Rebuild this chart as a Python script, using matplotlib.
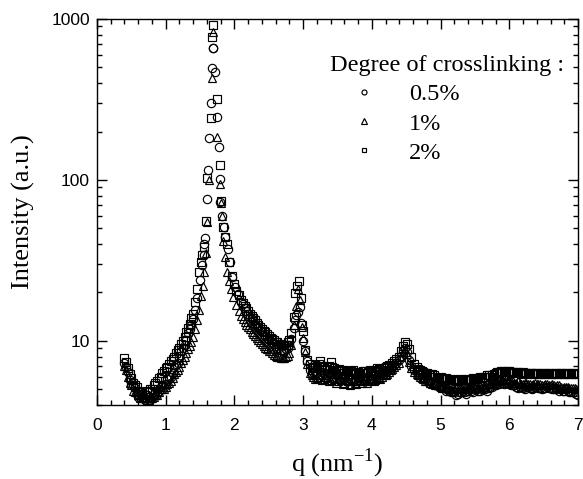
import matplotlib
matplotlib.use('Agg')
import matplotlib.pyplot as plt
import matplotlib.ticker as mticker
import numpy as np

plt.rcParams['font.family'] = 'Liberation Sans'
plt.rcParams['mathtext.fontset'] = 'custom'
plt.rcParams['mathtext.rm'] = 'Liberation Serif'

# ---------------- data ----------------
series_labels = ['0.5%', '1%', '2%']

# shared q grids (smooth regions)
q_low = [0.400, 0.425, 0.450, 0.475, 0.500, 0.525, 0.550, 0.575, 0.600,
         0.625, 0.650, 0.675, 0.700, 0.725, 0.750, 0.775, 0.800, 0.825,
         0.850, 0.875, 0.900, 0.925, 0.950, 0.975, 1.000, 1.025, 1.050,
         1.075, 1.100, 1.125, 1.150, 1.175, 1.200, 1.225, 1.250, 1.275,
         1.300, 1.325, 1.350, 1.375, 1.400]
q_dec = [2.100, 2.125, 2.150, 2.175, 2.200, 2.225, 2.250, 2.275, 2.300,
         2.325, 2.350, 2.375, 2.400, 2.425, 2.450, 2.475, 2.500, 2.525,
         2.550, 2.575, 2.600, 2.625, 2.650, 2.675, 2.700, 2.725, 2.750,
         2.775, 2.800]
q_mid = [3.100, 3.125, 3.150, 3.175, 3.200, 3.225, 3.250, 3.275, 3.300,
         3.325, 3.350, 3.375, 3.400, 3.425, 3.450, 3.475, 3.500, 3.525,
         3.550, 3.575, 3.600, 3.625, 3.650, 3.675, 3.700, 3.725, 3.750,
         3.775, 3.800, 3.825, 3.850, 3.875, 3.900, 3.925, 3.950, 3.975,
         4.000, 4.025, 4.050, 4.075, 4.100, 4.125, 4.150, 4.175, 4.200,
         4.225, 4.250, 4.275, 4.300, 4.325, 4.350]
q_tail = [4.650, 4.675, 4.700, 4.725, 4.750, 4.775, 4.800, 4.825, 4.850,
          4.875, 4.900, 4.925, 4.950, 4.975, 5.000, 5.025, 5.050, 5.075,
          5.100, 5.125, 5.150, 5.175, 5.200, 5.225, 5.250, 5.275, 5.300,
          5.325, 5.350, 5.375, 5.400, 5.425, 5.450, 5.475, 5.500, 5.525,
          5.550, 5.575, 5.600, 5.625, 5.650, 5.675, 5.700, 5.725, 5.750,
          5.775, 5.800, 5.825, 5.850, 5.875, 5.900, 5.925, 5.950, 5.975,
          6.000, 6.025, 6.050, 6.075, 6.100, 6.125, 6.150, 6.175, 6.200,
          6.225, 6.250, 6.275, 6.300, 6.325, 6.350, 6.375, 6.400, 6.425,
          6.450, 6.475, 6.500, 6.525, 6.550, 6.575, 6.600, 6.625, 6.650,
          6.675, 6.700, 6.725, 6.750, 6.775, 6.800, 6.825, 6.850, 6.875,
          6.900, 6.925, 6.950, 6.975, 7.000]

# 0.5 % crosslinking (circles)
low_05 = [7.3, 6.9, 6.4, 5.7, 5.3, 5.3, 5.1, 4.7, 4.5, 4.7, 4.6, 4.4, 4.3,
          4.6, 4.5, 4.3, 4.4, 4.7, 4.8, 4.7, 4.9, 5.2, 5.3, 5.2, 5.4, 5.8,
          6.0, 6.0, 6.3, 6.9, 7.2, 7.3, 7.8, 8.6, 9.0, 9.4, 10.1, 11.2,
          11.9, 12.5, 13.6]
dec_05 = [17.5, 16.9, 16.0, 15.3, 14.8, 14.1, 13.7, 13.3, 12.8, 12.3, 12.0,
          11.7, 11.3, 10.9, 10.7, 10.5, 10.2, 9.9, 9.7, 9.6, 9.3, 9.1, 9.0,
          8.8, 8.8, 8.7, 8.9, 9.1, 9.4]
mid_05 = [6.6, 6.2, 6.4, 6.5, 6.3, 6.0, 6.2, 6.4, 6.3, 6.1, 6.1, 6.3, 6.2,
          5.9, 6.0, 6.2, 6.1, 5.8, 5.9, 6.0, 5.8, 5.6, 5.9, 5.8, 5.7, 5.9,
          5.8, 5.6, 5.7, 5.9, 5.9, 5.7, 5.8, 6.0, 6.0, 5.8, 5.9, 6.1, 6.1,
          6.0, 6.2, 6.3, 6.1, 6.2, 6.4, 6.5, 6.6, 6.7, 6.9, 7.1, 7.3]
tail_05 = [6.4, 6.2, 6.1, 6.0, 5.9, 5.8, 5.7, 5.5, 5.6, 5.5,
           5.4, 5.3, 5.4, 5.2, 5.2, 5.2, 5.1, 4.9, 5.0, 4.9,
           4.8, 4.9, 4.8, 4.6, 4.7, 4.8, 4.8, 4.9, 4.8, 4.7,
           4.9, 5.0, 4.9, 4.8, 5.0, 5.0, 4.9, 4.9, 5.0, 5.1,
           5.0, 4.9, 5.1, 5.2, 5.2, 5.3, 5.3, 5.4, 5.4, 5.6,
           5.5, 5.4, 5.5, 5.5, 5.4, 5.3, 5.3, 5.3, 5.2, 5.1,
           5.2, 5.2, 5.1, 5.0, 5.2, 5.2, 5.1, 5.0, 5.1, 5.2,
           5.2, 5.1, 5.1, 5.0, 5.1, 5.1, 5.2, 5.1, 5.1, 5.0,
           5.0, 5.1, 5.0, 4.9, 5.0, 4.9, 4.9, 5.0, 4.9, 4.8,
           4.8, 4.8, 4.8, 4.7, 4.6]
q_pk_05 = [1.43, 1.46, 1.50, 1.53, 1.55, 1.56, 1.575, 1.605, 1.615, 1.625,
           1.655, 1.675, 1.69, 1.695, 1.715, 1.75, 1.776, 1.79, 1.795, 1.82,
           1.845, 1.87, 1.90, 1.93, 1.97, 2.01, 2.05,
           2.83, 2.86, 2.88, 2.90, 2.93, 2.955, 2.975, 3.00, 3.03, 3.055,
           4.39, 4.42, 4.45, 4.48, 4.51, 4.54, 4.57, 4.61]
I_pk_05 = [15.5, 18.5, 24, 29.5, 34.4, 40, 43.6, 76, 115, 181,
           300, 494, 664, 660, 470, 245, 161, 102, 73, 60,
           51, 44, 37, 31, 25, 21.5, 19.5,
           10.3, 12.0, 13.4, 14.5, 15.2, 16.3, 13.0, 10.0, 8.6, 7.5,
           7.6, 8.1, 8.7, 9.0, 8.5, 7.6, 7.0, 6.6]

# 1 % crosslinking (triangles)
low_1 = [7.0, 6.6, 6.0, 5.5, 5.3, 4.9, 4.8, 4.8, 4.6, 4.4, 4.4, 4.5, 4.4,
         4.3, 4.3, 4.4, 4.4, 4.5, 4.6, 4.6, 4.8, 5.0, 5.0, 5.0, 5.2, 5.4,
         5.5, 5.6, 5.9, 6.2, 6.4, 6.6, 6.9, 7.3, 7.6, 7.9, 8.4, 8.9, 9.3,
         9.8, 10.6]
dec_1 = [14.2, 13.7, 13.1, 12.6, 12.2, 11.8, 11.4, 11.0, 10.7, 10.4, 10.1,
         9.8, 9.6, 9.3, 9.1, 8.9, 8.7, 8.6, 8.4, 8.2, 8.1, 8.0, 7.9, 7.8,
         7.8, 7.8, 7.9, 8.1, 8.4]
mid_1 = [6.3, 6.1, 6.0, 5.8, 5.9, 6.1, 6.0, 5.7, 5.8, 6.0, 5.9, 5.6, 5.7,
         5.9, 5.8, 5.5, 5.6, 5.8, 5.7, 5.4, 5.5, 5.7, 5.6, 5.3, 5.4, 5.6,
         5.5, 5.4, 5.6, 5.7, 5.5, 5.6, 5.7, 5.5, 5.6, 5.8, 5.8, 5.6, 5.7,
         5.9, 5.9, 5.8, 6.0, 6.1, 6.1, 6.2, 6.4, 6.6, 6.7, 6.9, 7.1]
tail_1 = [6.2, 6.1, 6.0, 5.9, 5.8, 5.6, 5.6, 5.6, 5.5, 5.4,
          5.4, 5.3, 5.3, 5.3, 5.2, 5.1, 5.1, 5.2, 5.1, 5.0,
          5.0, 4.9, 5.0, 5.1, 5.1, 5.0, 5.0, 5.0, 5.1, 5.2,
          5.1, 5.1, 5.2, 5.3, 5.2, 5.1, 5.2, 5.3, 5.3, 5.2,
          5.3, 5.4, 5.4, 5.5, 5.5, 5.5, 5.6, 5.7, 5.7, 5.6,
          5.7, 5.8, 5.8, 5.7, 5.7, 5.6, 5.6, 5.5, 5.5, 5.6,
          5.5, 5.4, 5.4, 5.5, 5.5, 5.4, 5.4, 5.3, 5.4, 5.5,
          5.4, 5.4, 5.4, 5.3, 5.3, 5.4, 5.4, 5.3, 5.3, 5.4,
          5.3, 5.2, 5.3, 5.3, 5.2, 5.1, 5.2, 5.2, 5.2, 5.1,
          5.1, 5.1, 5.1, 5.0, 5.0]
q_pk_1 = [1.43, 1.46, 1.49, 1.52, 1.54, 1.56, 1.58, 1.60, 1.635, 1.675,
          1.69, 1.74, 1.785, 1.80, 1.815, 1.84, 1.86, 1.89, 1.92, 1.95,
          1.98, 2.02, 2.06,
          2.83, 2.86, 2.89, 2.93, 2.955, 2.98, 3.00, 3.03, 3.06,
          4.39, 4.42, 4.45, 4.48, 4.51, 4.54, 4.57, 4.61]
I_pk_1 = [11.8, 13.5, 15.5, 19, 22, 27, 35, 55, 100, 430,
          830, 186, 95, 72, 59.5, 42, 33, 27, 23.5, 21,
          18.8, 16.8, 15.3,
          9.5, 12.5, 16.5, 21, 18, 12.2, 10.5, 8.5, 7.2,
          7.3, 7.9, 8.5, 8.9, 8.3, 7.4, 6.8, 6.4]

# 2 % crosslinking (squares)
low_2 = [7.8, 7.4, 6.8, 6.2, 5.9, 5.5, 5.3, 5.2, 4.9, 4.8, 4.7, 4.5, 4.6,
         4.9, 4.8, 5.0, 5.0, 5.3, 5.5, 5.6, 5.9, 6.0, 6.3, 6.5, 6.8, 6.9,
         7.2, 7.5, 7.7, 8.0, 8.4, 8.8, 9.1, 9.6, 10.0, 10.6, 11.3, 12.0,
         12.8, 13.9, 14.8]
dec_2 = [18.0, 17.3, 16.6, 16.0, 15.4, 14.8, 14.3, 13.9, 13.4, 13.0, 12.6,
         12.2, 11.9, 11.6, 11.3, 11.0, 10.8, 10.5, 10.3, 10.1, 9.9, 9.8,
         9.6, 9.5, 9.4, 9.4, 9.5, 9.8, 10.2]
mid_2 = [7.2, 6.8, 6.9, 7.1, 7.0, 7.2, 7.5, 7.0, 6.9, 6.6, 6.7, 7.0, 7.4,
         6.9, 6.8, 6.5, 6.6, 6.7, 6.5, 6.3, 6.6, 6.5, 6.4, 6.2, 6.5, 6.6,
         6.3, 6.4, 6.4, 6.2, 6.3, 6.5, 6.5, 6.3, 6.4, 6.6, 6.5, 6.4, 6.6,
         6.8, 6.7, 6.5, 6.6, 6.8, 6.9, 7.0, 7.1, 7.0, 7.3, 7.5, 7.7]
tail_2 = [6.9, 6.7, 6.6, 6.5, 6.4, 6.3, 6.3, 6.2, 6.1, 6.2,
          6.1, 6.0, 5.9, 5.9, 6.0, 5.8, 5.8, 5.9, 5.8, 5.7,
          5.7, 5.8, 5.7, 5.6, 5.6, 5.7, 5.8, 5.7, 5.7, 5.8,
          5.7, 5.7, 5.8, 5.9, 5.8, 5.8, 5.9, 6.0, 5.9, 6.0,
          6.0, 6.1, 6.1, 6.0, 6.1, 6.2, 6.3, 6.4, 6.4, 6.5,
          6.5, 6.4, 6.4, 6.5, 6.5, 6.4, 6.4, 6.3, 6.4, 6.4,
          6.3, 6.2, 6.4, 6.3, 6.3, 6.2, 6.3, 6.3, 6.2, 6.3,
          6.3, 6.2, 6.2, 6.3, 6.3, 6.2, 6.2, 6.3, 6.3, 6.2,
          6.2, 6.3, 6.2, 6.3, 6.3, 6.2, 6.2, 6.3, 6.3, 6.2,
          6.2, 6.3, 6.3, 6.2, 6.2]
q_pk_2 = [1.43, 1.45, 1.48, 1.51, 1.53, 1.55, 1.58, 1.60, 1.655, 1.675,
          1.693, 1.745, 1.79, 1.80, 1.84, 1.87, 1.89, 1.92, 1.96, 2.00,
          2.03, 2.06,
          2.83, 2.86, 2.88, 2.915, 2.94, 2.965, 2.98, 3.00, 3.03, 3.06,
          4.39, 4.42, 4.45, 4.48, 4.51, 4.54, 4.57, 4.61]
I_pk_2 = [17.5, 21, 27, 31, 34, 38.5, 56, 103, 241, 776,
          918, 320, 124, 74, 51, 44, 40, 31, 25.5, 22.5,
          20.5, 19.2,
          11.2, 14, 19.9, 22, 23.5, 18.5, 12.6, 11.5, 8.8, 7.6,
          8.0, 8.6, 9.3, 9.8, 9.6, 8.9, 7.9, 7.2]

x_ticks = [0, 1, 2, 3, 4, 5, 6, 7]
y_ticks = [10, 100, 1000]


# ---------------- assemble ----------------
def assemble(low, dec, mid, tail, qpk, ipk):
    q = np.array(q_low + q_dec + q_mid + q_tail + qpk, dtype=float)
    I = np.array(low + dec + mid + tail + ipk, dtype=float)
    order = np.argsort(q)
    return q[order], I[order]


data = [
    assemble(low_05, dec_05, mid_05, tail_05, q_pk_05, I_pk_05),
    assemble(low_1, dec_1, mid_1, tail_1, q_pk_1, I_pk_1),
    assemble(low_2, dec_2, mid_2, tail_2, q_pk_2, I_pk_2),
]
markers = ['o', '^', 's']
msizes = [6.0, 6.3, 5.6]

# ---------------- figure ----------------
fig = plt.figure(figsize=(5.83, 4.79), dpi=100)
ax = fig.add_axes([97 / 583, 1 - 405 / 479, 481 / 583, 386 / 479])

for (q, I), m, ms, lab in zip(data, markers, msizes, series_labels):
    ax.plot(q, I, linestyle='none', marker=m, ms=ms, mfc='none',
            mec='black', mew=0.85, label=lab)

ax.set_yscale('log')
ax.set_xlim(0, 7)
ax.set_ylim(4, 1000)

ax.set_xticks(x_ticks)
ax.xaxis.set_minor_locator(mticker.MultipleLocator(0.2))
ax.set_yticks(y_ticks)
ax.yaxis.set_major_formatter(mticker.FuncFormatter(lambda v, p: f'{v:g}'))
ax.yaxis.set_minor_locator(mticker.LogLocator(base=10, subs=range(2, 10)))
ax.yaxis.set_minor_formatter(mticker.NullFormatter())

ax.tick_params(which='both', direction='in', top=True, right=True,
               width=1.0, labelsize=12.5)
ax.tick_params(which='major', length=7.5)
ax.tick_params(which='minor', length=3.8)
ax.tick_params(axis='x', which='major', pad=9)
ax.tick_params(axis='y', which='major', pad=5)
for s in ax.spines.values():
    s.set_linewidth(1.0)

ax.set_xlabel(r'q (nm$^{\mathregular{-1}}$)', family='Liberation Serif',
              fontsize=19, labelpad=10)
ax.set_ylabel('Intensity (a.u.)', family='Liberation Serif', fontsize=19,
              labelpad=12)

leg = ax.legend(title='Degree of crosslinking :', loc='upper right',
                bbox_to_anchor=((564 - 97) / 481, (405 - 55) / 386),
                frameon=False, borderaxespad=0, borderpad=0,
                handlelength=2.8, handletextpad=0.45, markerscale=0.6,
                labelspacing=0.3, numpoints=1, alignment='left',
                prop={'family': 'Liberation Serif', 'size': 17.5},
                title_fontproperties={'family': 'Liberation Serif',
                                      'size': 17.5})

fig.savefig('out.png', dpi=100)
